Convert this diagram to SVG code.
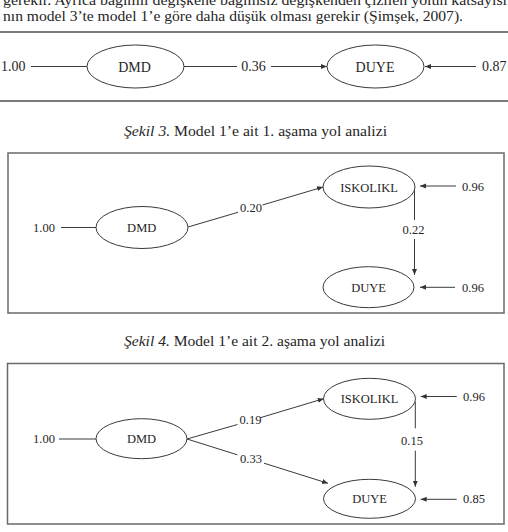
<svg xmlns="http://www.w3.org/2000/svg" width="508" height="532" viewBox="0 0 508 532" font-family="'Liberation Serif', 'Times New Roman', serif">
<defs>
<marker id="arr" markerUnits="userSpaceOnUse" markerWidth="7" markerHeight="6" refX="6" refY="2.5" orient="auto">
<path d="M0,0 L6,2.5 L0,5 z" fill="#333"/>
</marker>
<style>
text{font-family:'Liberation Serif','Times New Roman',serif;fill:#262626}
.body{font-size:15.5px}
.cap{font-size:15.5px}
.it{font-style:italic}
.n1{font-size:14px}
.n{font-size:12.5px}
.mid{text-anchor:middle}
.node{fill:#fff;stroke:#3a3a3a;stroke-width:1}
.ln{fill:none;stroke:#3a3a3a;stroke-width:1}
.ar{fill:none;stroke:#3a3a3a;stroke-width:1;marker-end:url(#arr)}
.rule{stroke:#7a7a7a;stroke-width:1.8}
.box{fill:none;stroke:#6a6a6a;stroke-width:1.5}
</style>
</defs>
<rect width="508" height="532" fill="#fff"/>

<g id="body-text">
<text class="body" x="3" y="4.5" textLength="504" lengthAdjust="spacingAndGlyphs">gerekir. Ayrıca bağımlı değişkene bağımsız değişkenden çizilen yolun katsayısı</text>
<text class="body" x="3" y="20.5" textLength="460" lengthAdjust="spacingAndGlyphs">nın model 3’te model 1’e göre daha düşük olması gerekir (Şimşek, 2007).</text>
</g>

<g id="rules">
<line class="rule" x1="0" y1="32" x2="508" y2="32"/>
<line class="rule" x1="0" y1="101" x2="508" y2="101"/>
</g>

<g id="f1-connectors">
<line class="ln" x1="31" y1="66.5" x2="87" y2="66.5"/>
<line class="ln" x1="184" y1="66.5" x2="237" y2="66.5"/>
<line class="ar" x1="271" y1="66.5" x2="327" y2="66.5"/>
<line class="ar" x1="476" y1="66.5" x2="425" y2="66.5"/>
<text class="n1" x="1" y="71">1.00</text>
<text class="n1 mid" x="253.5" y="71">0.36</text>
<text class="n1" x="482" y="71">0.87</text>
</g>
<g id="f1-DMD">
<ellipse class="node" cx="135.5" cy="66.5" rx="48.5" ry="21.5"/>
<text class="n1 mid" x="134.5" y="71.5">DMD</text>
</g>
<g id="f1-DUYE">
<ellipse class="node" cx="375.5" cy="66.5" rx="48.5" ry="21.5"/>
<text class="n1 mid" x="375" y="71.5">DUYE</text>
</g>

<g id="caption3">
<text class="cap" x="124" y="136" textLength="263" lengthAdjust="spacingAndGlyphs"><tspan class="it">Şekil 3.</tspan>  Model 1’e ait 1. aşama yol analizi</text>
</g>

<rect class="box" x="8" y="153" width="496" height="160"/>
<g id="f3-connectors">
<line class="ln" x1="61" y1="227.5" x2="96" y2="227.5"/>
<line class="ln" x1="188" y1="227" x2="238" y2="212.3"/>
<line class="ar" x1="262.5" y1="205" x2="323" y2="187"/>
<line class="ln" x1="414.5" y1="190" x2="414.5" y2="220"/>
<line class="ar" x1="414.5" y1="239" x2="414.5" y2="275"/>
<line class="ar" x1="456" y1="186" x2="420" y2="186"/>
<line class="ar" x1="455" y1="287.3" x2="420" y2="287.3"/>
<text class="n" x="33" y="232">1.00</text>
<text class="n" x="240" y="212">0.20</text>
<text class="n mid" x="413.5" y="234">0.22</text>
<text class="n" x="462" y="190.5">0.96</text>
<text class="n" x="462" y="291.5">0.96</text>
</g>
<g id="f3-DMD">
<ellipse class="node" cx="142" cy="227.5" rx="46" ry="21"/>
<text class="n mid" x="141.7" y="232">DMD</text>
</g>
<g id="f3-ISKOLIKL">
<ellipse class="node" cx="369" cy="187" rx="46" ry="21"/>
<text class="n mid" x="369" y="191.5">ISKOLIKL</text>
</g>
<g id="f3-DUYE">
<ellipse class="node" cx="368.5" cy="287.2" rx="45.5" ry="20.5"/>
<text class="n mid" x="368.5" y="291.5">DUYE</text>
</g>

<g id="caption4">
<text class="cap" x="124" y="346" textLength="261" lengthAdjust="spacingAndGlyphs"><tspan class="it">Şekil 4.</tspan> Model 1’e ait 2. aşama yol analizi</text>
</g>

<rect class="box" x="7.5" y="363.5" width="496.5" height="160.5"/>
<g id="f4-connectors">
<line class="ln" x1="59" y1="439" x2="96" y2="439"/>
<line class="ln" x1="187" y1="439" x2="237.5" y2="424.5"/>
<line class="ar" x1="260" y1="417.8" x2="323.7" y2="398.7"/>
<line class="ln" x1="187" y1="439" x2="237.3" y2="454.8"/>
<line class="ar" x1="264" y1="463.2" x2="328" y2="483.3"/>
<line class="ln" x1="415.3" y1="401.7" x2="415.3" y2="428.3"/>
<line class="ar" x1="415.3" y1="450.7" x2="415.3" y2="486.7"/>
<line class="ar" x1="456.7" y1="396.5" x2="420.7" y2="396.5"/>
<line class="ar" x1="456.7" y1="499.3" x2="420.7" y2="499.3"/>
<text class="n" x="33" y="443">1.00</text>
<text class="n" x="239.5" y="423.5">0.19</text>
<text class="n" x="240" y="462.5">0.33</text>
<text class="n mid" x="412" y="445">0.15</text>
<text class="n" x="463" y="400.5">0.96</text>
<text class="n" x="463" y="503">0.85</text>
</g>
<g id="f4-DMD">
<ellipse class="node" cx="141.5" cy="438.7" rx="45.5" ry="20"/>
<text class="n mid" x="141.5" y="443">DMD</text>
</g>
<g id="f4-ISKOLIKL">
<ellipse class="node" cx="369.5" cy="398.8" rx="46" ry="20.5"/>
<text class="n mid" x="369.5" y="403">ISKOLIKL</text>
</g>
<g id="f4-DUYE">
<ellipse class="node" cx="369.5" cy="498.8" rx="46" ry="19.5"/>
<text class="n mid" x="369.5" y="503">DUYE</text>
</g>
</svg>
